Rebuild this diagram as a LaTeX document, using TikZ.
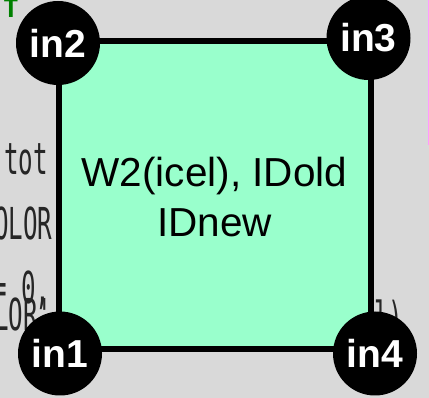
\documentclass[tikz,border=0pt]{standalone}
\usepackage{fontspec}
\setmainfont{Liberation Sans}
\newfontfamily\bgmono{DejaVu Sans Mono}
\usepackage{graphicx}
\definecolor{bggray}{RGB}{217,217,217}
\definecolor{mint}{RGB}{153,255,204}
\definecolor{codegreen}{RGB}{0,128,0}
\definecolor{pinkline}{RGB}{255,153,255}
\tikzset{
  cell/.style={draw=black, line width=6.5pt, fill=mint},
  corner/.style={circle, fill=black, minimum size=84pt, inner sep=0pt,
    text=white, font=\fontsize{39}{39}\selectfont\bfseries},
  celltext/.style={anchor=base, inner sep=0pt, font=\fontsize{40.5}{40.5}\selectfont},
  bgcode/.style={anchor=base west, inner sep=0pt, text=black!85},
}
\newcommand{\bgtxt}[1]{\scalebox{0.55}[1]{\bgmono\fontsize{44}{44}\selectfont #1}}
\begin{document}
\begin{tikzpicture}[x=1pt,y=-1pt]
\useasboundingbox (0,0) rectangle (429,398);
\fill[bggray] (0,0) rectangle (429,398);
% background fragments of the underlying slide
\draw[pinkline, line width=1.2pt] (428.4,0) -- (428.4,145);
\node[bgcode, text=codegreen] (bgT) at (3,18) {\bgmono\bfseries\fontsize{26}{26}\selectfont T};
\node[bgcode] (bg1) at (-10.6,175) {\bgtxt{(tot}};
\node[bgcode] (bg2) at (-20.6,240) {\bgtxt{COLOR}};
\node[bgcode] (bg3) at (-8,304) {\bgtxt{= 0,}};
\node[bgcode] (bg4) at (-35.2,331) {\bgtxt{COLOR';}};
\node[bgcode] (bg5) at (374,334) {\bgtxt{l)}};
% cell
\draw[cell] (59,41) rectangle (371,349);
\node[celltext] (t1) at (214.5,187) {W2(icel), IDold};
\node[celltext] (t2) at (214.5,237) {IDnew};
% corners
\node[corner] (in2) at (58,43) {in2};
\node[corner] (in3) at (368.5,38) {in3};
\node[corner] (in1) at (60,353.5) {in1};
\node[corner] (in4) at (375,353.5) {in4};
\end{tikzpicture}
\end{document}
